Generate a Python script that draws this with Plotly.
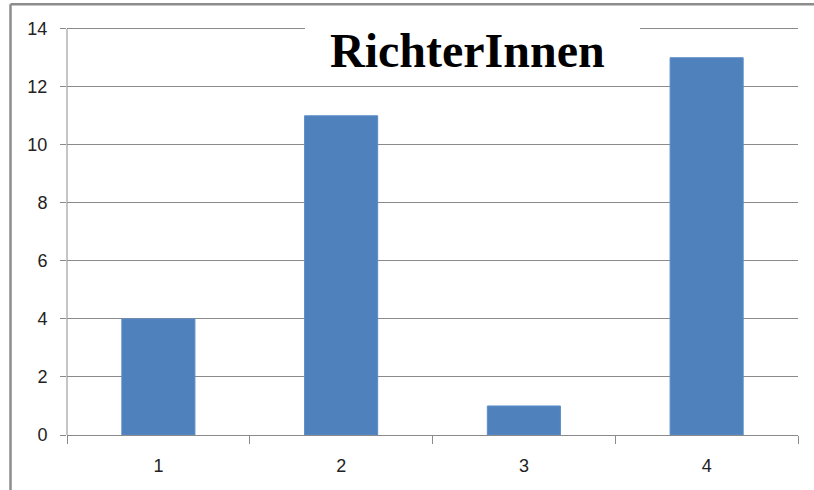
import plotly.graph_objects as go

categories = ["1", "2", "3", "4"]
values = [4, 11, 1, 13]
y_ticks = [0, 2, 4, 6, 8, 10, 12, 14]
y_max = 14.3
title_text = "RichterInnen"

W, H = 814, 490
x_left, x_right = 67, 798
y_zero, y_14 = 435, 29
unit = (y_zero - y_14) / 14.0
L = x_left
R = W - x_right
B = H - y_zero
T = y_zero - unit * y_max
pw, ph = W - L - R, H - T - B

def px_x(x):
    return (x - L) / pw

def px_y(y):
    return (H - B - y) / ph

fig = go.Figure()
fig.add_trace(go.Bar(
    x=categories, y=values,
    marker=dict(color="#4F81BD", line=dict(color="#5B8DC9", width=1)),
    hoverinfo="skip",
))

grid = "#8a8a8a"
fig.update_layout(
    width=W, height=H,
    margin=dict(l=L, r=R, t=T, b=B, pad=0),
    paper_bgcolor="white", plot_bgcolor="white",
    bargap=0.6,
    showlegend=False,
    font=dict(family="Liberation Sans, Arial, sans-serif", size=18, color="#222"),
    xaxis=dict(
        type="category", tickson="boundaries",
        showgrid=False, showline=True, linecolor=grid, linewidth=1,
        ticks="outside", ticklen=8, tickcolor=grid, tickwidth=1,
        ticklabelstandoff=14,
    ),
    yaxis=dict(
        range=[0, y_max], tickvals=y_ticks, showgrid=True, gridcolor=grid, gridwidth=1,
        showline=False,
        ticks="outside", ticklen=6, tickcolor=grid, tickwidth=1,
        ticklabelstandoff=9, zeroline=False,
    ),
)

# y axis line only up to 14
fig.add_shape(type="line", xref="paper", yref="y",
              x0=0, x1=0, y0=0, y1=14, line=dict(color=grid, width=1))

# chart frame (top and left visible)
frame = "#8c8c8c"
fig.add_shape(type="line", xref="paper", yref="paper",
              x0=px_x(10.5), x1=px_x(830), y0=px_y(4.5), y1=px_y(4.5),
              line=dict(color=frame, width=2.5))
fig.add_shape(type="line", xref="paper", yref="paper",
              x0=px_x(10.5), x1=px_x(10.5), y0=px_y(4.5), y1=px_y(500),
              line=dict(color=frame, width=2.5))

# white title box
fig.add_shape(type="rect", xref="paper", yref="paper", layer="above",
              x0=px_x(305), x1=px_x(640), y0=px_y(80), y1=px_y(15),
              fillcolor="white", line=dict(width=0))
fig.add_annotation(
    text="<b>" + title_text + "</b>", xref="paper", yref="paper",
    x=px_x(467), y=px_y(51), xanchor="center", yanchor="middle", showarrow=False,
    font=dict(family="Liberation Serif, Times New Roman, serif", size=48, color="black"),
)

fig.write_html("out.html", config={"displayModeBar": False},
               post_script="document.body.style.margin='0';")
